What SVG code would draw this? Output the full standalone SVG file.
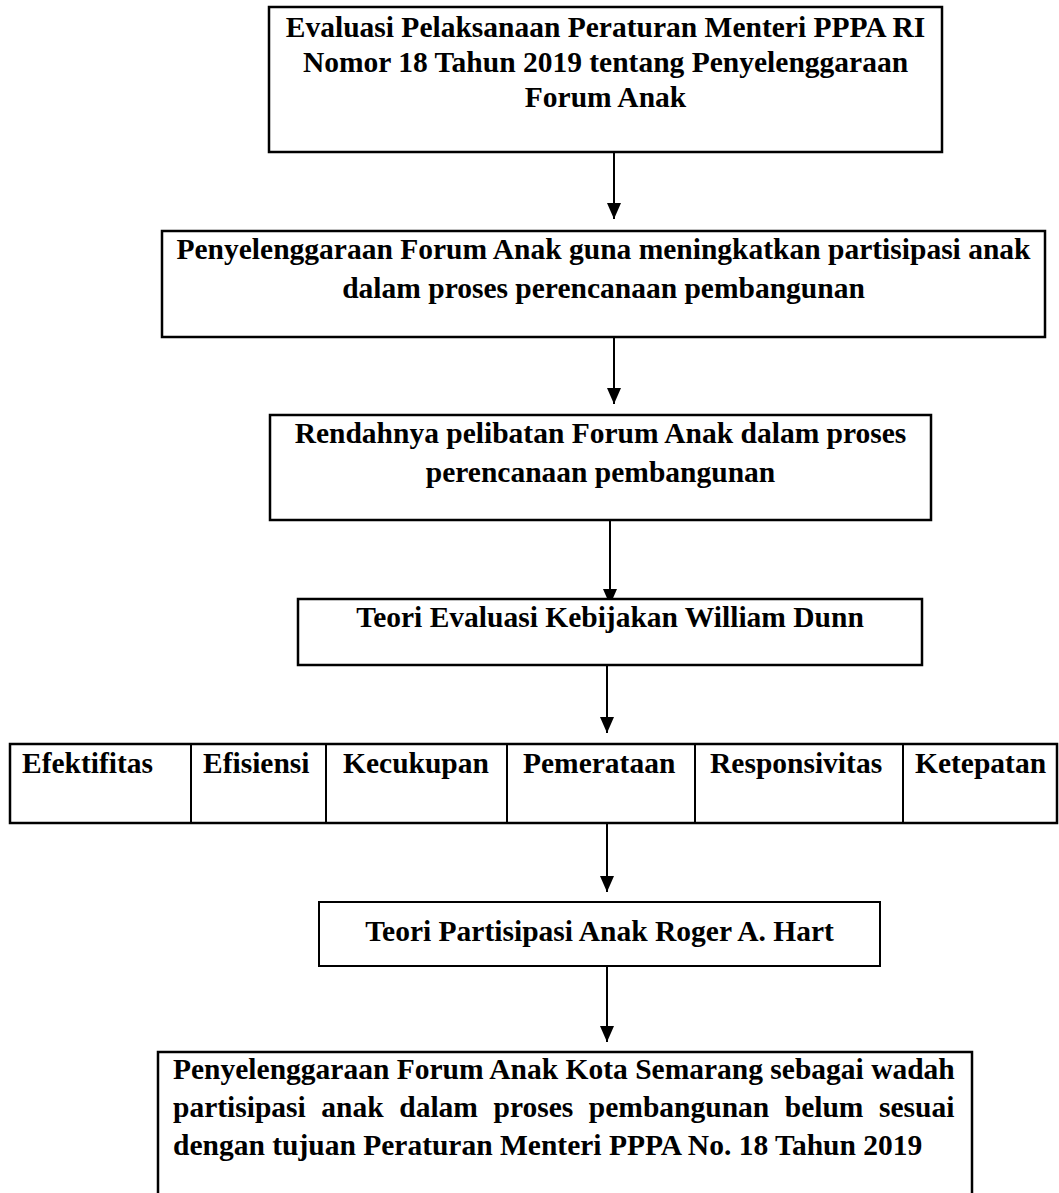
<svg xmlns="http://www.w3.org/2000/svg" width="1059" height="1193" viewBox="0 0 1059 1193">
<style>
.box{fill:#fff;stroke:#000;stroke-width:2.5}
.thin{fill:#fff;stroke:#000;stroke-width:2}
.div{stroke:#000;stroke-width:2}
.t{font-family:"Liberation Serif","Times New Roman",serif;font-weight:bold;font-size:29.5px;fill:#000}
.c{text-anchor:middle}
.conn{stroke:#000;stroke-width:2;fill:none;marker-end:url(#ah)}
</style>
<defs>
<marker id="ah" markerUnits="userSpaceOnUse" markerWidth="16" markerHeight="14" refX="16" refY="7" orient="auto">
<path d="M0,0 L16,7 L0,14 z" fill="#000"/>
</marker>
</defs>
<rect width="1059" height="1193" fill="#fff"/>
<g id="connectors">
<line class="conn" x1="614" y1="152" x2="614" y2="219"/>
<line class="conn" x1="614" y1="337" x2="614" y2="404"/>
<line class="conn" x1="610" y1="520" x2="610" y2="605"/>
<line class="conn" x1="607" y1="665" x2="607" y2="733"/>
<line class="conn" x1="607" y1="823" x2="607" y2="892"/>
<line class="conn" x1="607" y1="966" x2="607" y2="1042"/>
</g>
<g id="n1">
<rect class="box" x="269" y="7" width="673" height="145"/>
<text class="t c" x="605.5" y="37">Evaluasi Pelaksanaan Peraturan Menteri PPPA RI</text>
<text class="t c" x="605.5" y="72">Nomor 18 Tahun 2019 tentang Penyelenggaraan</text>
<text class="t c" x="605.5" y="107">Forum Anak</text>
</g>
<g id="n2">
<rect class="box" x="162" y="231" width="883" height="106"/>
<text class="t c" x="603.5" y="259">Penyelenggaraan Forum Anak guna meningkatkan partisipasi anak</text>
<text class="t c" x="603.5" y="298">dalam proses perencanaan pembangunan</text>
</g>
<g id="n3">
<rect class="box" x="270" y="415" width="661" height="105"/>
<text class="t c" x="600.5" y="443">Rendahnya pelibatan Forum Anak dalam proses</text>
<text class="t c" x="600.5" y="482">perencanaan pembangunan</text>
</g>
<g id="n4">
<rect class="box" x="298" y="599" width="624" height="66"/>
<text class="t c" x="610" y="627">Teori Evaluasi Kebijakan William Dunn</text>
</g>
<g id="n5">
<rect class="box" x="10" y="744" width="1047" height="79"/>
<line class="div" x1="191" y1="744" x2="191" y2="823"/>
<line class="div" x1="326" y1="744" x2="326" y2="823"/>
<line class="div" x1="507" y1="744" x2="507" y2="823"/>
<line class="div" x1="695" y1="744" x2="695" y2="823"/>
<line class="div" x1="903" y1="744" x2="903" y2="823"/>
<text class="t" x="22" y="773">Efektifitas</text>
<text class="t" x="203" y="773">Efisiensi</text>
<text class="t" x="343" y="773">Kecukupan</text>
<text class="t" x="523" y="773">Pemerataan</text>
<text class="t" x="710" y="773">Responsivitas</text>
<text class="t" x="915" y="773">Ketepatan</text>
</g>
<g id="n6">
<rect class="thin" x="319" y="902" width="561" height="64"/>
<text class="t c" x="599.5" y="941">Teori Partisipasi Anak Roger A. Hart</text>
</g>
<g id="n7">
<rect class="box" x="158" y="1052" width="814" height="160"/>
<text class="t" x="173" y="1079">Penyelenggaraan Forum Anak Kota Semarang sebagai wadah</text>
<text class="t" x="173" y="1117" word-spacing="8.2">partisipasi anak dalam proses pembangunan belum sesuai</text>
<text class="t" x="173" y="1155">dengan tujuan Peraturan Menteri PPPA No. 18 Tahun 2019</text>
</g>
</svg>
